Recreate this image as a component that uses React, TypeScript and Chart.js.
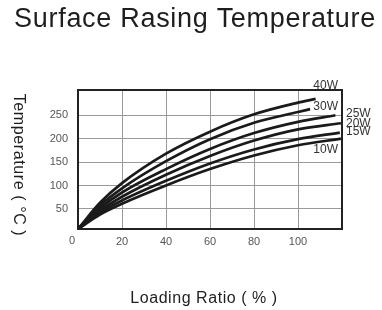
import React, { useEffect, useRef } from 'react';
import { Chart, registerables } from 'chart.js';

Chart.register(...registerables);

// ---- data ----
const seriesNames = ['40W', '30W', '25W', '20W', '15W', '10W'];

const load40 = [0, 10, 20, 40, 60, 80, 100, 108];
const temp40 = [7, 63, 105, 168, 215, 252, 277, 285];
const load30 = [0, 10, 20, 40, 60, 80, 100, 105.5];
const temp30 = [7, 57, 94, 152, 199, 234, 257, 263];
const load25 = [0, 10, 20, 40, 60, 80, 100, 117];
const temp25 = [7, 51.5, 85, 135, 178, 212, 236, 250];
const load20 = [0, 10, 20, 40, 60, 80, 100, 119.5];
const temp20 = [7, 46, 76, 123, 163, 196, 220, 233];
const load15 = [0, 10, 20, 40, 60, 80, 100, 119];
const temp15 = [7, 42, 68, 110, 147, 177, 199, 213];
const load10 = [0, 10, 20, 40, 60, 80, 100, 119.5];
const temp10 = [7, 38, 61, 100, 135, 164, 186, 200];

const xTicks = [0, 20, 40, 60, 80, 100];
const yTicks = [50, 100, 150, 200, 250];
const xMin = 0;
const xMax = 120;
const yMin = 7;
const yMax = 304;

const titleText = 'Surface Rasing Temperature';
const xTitle = 'Loading Ratio ( % )';
const yTitle = 'Temperature ( °C )';

// label anchors in data units (annotation placement)
const labelAnchorX = [118.2, 118.2, 121.8, 121.8, 121.8, 118.2];
const labelAnchorY = [314, 269, 253.6, 232.3, 214.5, 177];
const labelAlign: CanvasTextAlign[] = ['right', 'right', 'left', 'left', 'left', 'right'];

const FONT = '"Liberation Sans", Arial, Helvetica, sans-serif';

const seriesX = [load40, load30, load25, load20, load15, load10];
const seriesY = [temp40, temp30, temp25, temp20, temp15, temp10];

const decorPlugin = {
  id: 'decor',
  beforeDatasetsDraw(chart: any) {
    const { ctx, chartArea } = chart;
    ctx.save();
    ctx.strokeStyle = '#222';
    ctx.lineWidth = 2;
    ctx.strokeRect(chartArea.left, chartArea.top, chartArea.right - chartArea.left, chartArea.bottom - chartArea.top);
    ctx.restore();
  },
  afterDraw(chart: any) {
    const { ctx, chartArea, scales } = chart;
    const xs = scales.x;
    const ys = scales.y;
    ctx.save();
    // title
    ctx.fillStyle = '#1e1e1e';
    ctx.font = `27px ${FONT}`;
    (ctx as any).letterSpacing = '0.7px';
    ctx.textAlign = 'center';
    ctx.textBaseline = 'alphabetic';
    ctx.fillText(titleText, 195, 27);

    // x axis title
    ctx.font = `16px ${FONT}`;
    (ctx as any).letterSpacing = '0.55px';
    ctx.textBaseline = 'middle';
    ctx.fillText(xTitle, 204, 299);

    // y axis title (rotated clockwise)
    ctx.save();
    ctx.translate(18, 165);
    ctx.rotate(Math.PI / 2);
    (ctx as any).letterSpacing = '0.6px';
    ctx.fillText(yTitle, 0, 0);
    ctx.restore();

    // "0" origin label
    (ctx as any).letterSpacing = '0px';
    ctx.font = `11px ${FONT}`;
    ctx.fillStyle = '#555';
    ctx.textAlign = 'center';
    ctx.fillText(String(xTicks[0]), xs.getPixelForValue(xTicks[0]) - 6, chartArea.bottom + 12);

    // series labels
    ctx.font = `12px ${FONT}`;
    ctx.fillStyle = '#333';
    seriesNames.forEach((name, i) => {
      ctx.textAlign = labelAlign[i];
      ctx.fillText(name, xs.getPixelForValue(labelAnchorX[i]), ys.getPixelForValue(labelAnchorY[i]));
    });
    ctx.restore();
  },
};

export default function App() {
  const ref = useRef<HTMLCanvasElement | null>(null);

  useEffect(() => {
    if (!ref.current) return;
    const datasets = seriesNames.map((name, i) => ({
      label: name,
      data: seriesX[i].map((x, j) => ({ x, y: seriesY[i][j] })),
      showLine: true,
      borderColor: '#1a1a1a',
      borderWidth: 2.7,
      pointRadius: 0,
      fill: false,
      cubicInterpolationMode: 'monotone' as const,
    }));

    const chart = new Chart(ref.current, {
      type: 'scatter',
      data: { datasets },
      options: {
        animation: false,
        responsive: false,
        maintainAspectRatio: false,
        devicePixelRatio: 1,
        layout: { padding: { top: 90, right: 40, left: 0, bottom: 0 } },
        plugins: {
          legend: { display: false },
          title: { display: false },
          tooltip: { enabled: false },
        },
        scales: {
          x: {
            type: 'linear',
            min: xMin,
            max: xMax,
            afterBuildTicks: (s: any) => {
              s.ticks = xTicks.map((v) => ({ value: v }));
            },
            afterFit: (s: any) => {
              s.height = 81;
            },
            ticks: {
              autoSkip: false,
              maxRotation: 0,
              padding: 6,
              color: '#555',
              font: { size: 11, family: FONT },
              callback: (v: any) => (v === 0 ? '' : String(v)),
            },
            grid: { color: '#9a9a9a', lineWidth: 1, drawTicks: false },
            border: { display: false },
          },
          y: {
            type: 'linear',
            min: yMin,
            max: yMax,
            afterBuildTicks: (s: any) => {
              s.ticks = yTicks.map((v) => ({ value: v }));
            },
            afterFit: (s: any) => {
              s.width = 78;
            },
            ticks: {
              padding: 10,
              color: '#555',
              font: { size: 11, family: FONT },
            },
            grid: { color: '#9a9a9a', lineWidth: 1, drawTicks: false },
            border: { display: false },
          },
        },
      },
      plugins: [decorPlugin],
    });
    return () => chart.destroy();
  }, []);

  return (
    <div style={{ position: 'fixed', left: 0, top: 0, width: 382, height: 310, background: '#fff' }}>
      <canvas ref={ref} width={382} height={310} style={{ display: 'block' }} />
    </div>
  );
}
